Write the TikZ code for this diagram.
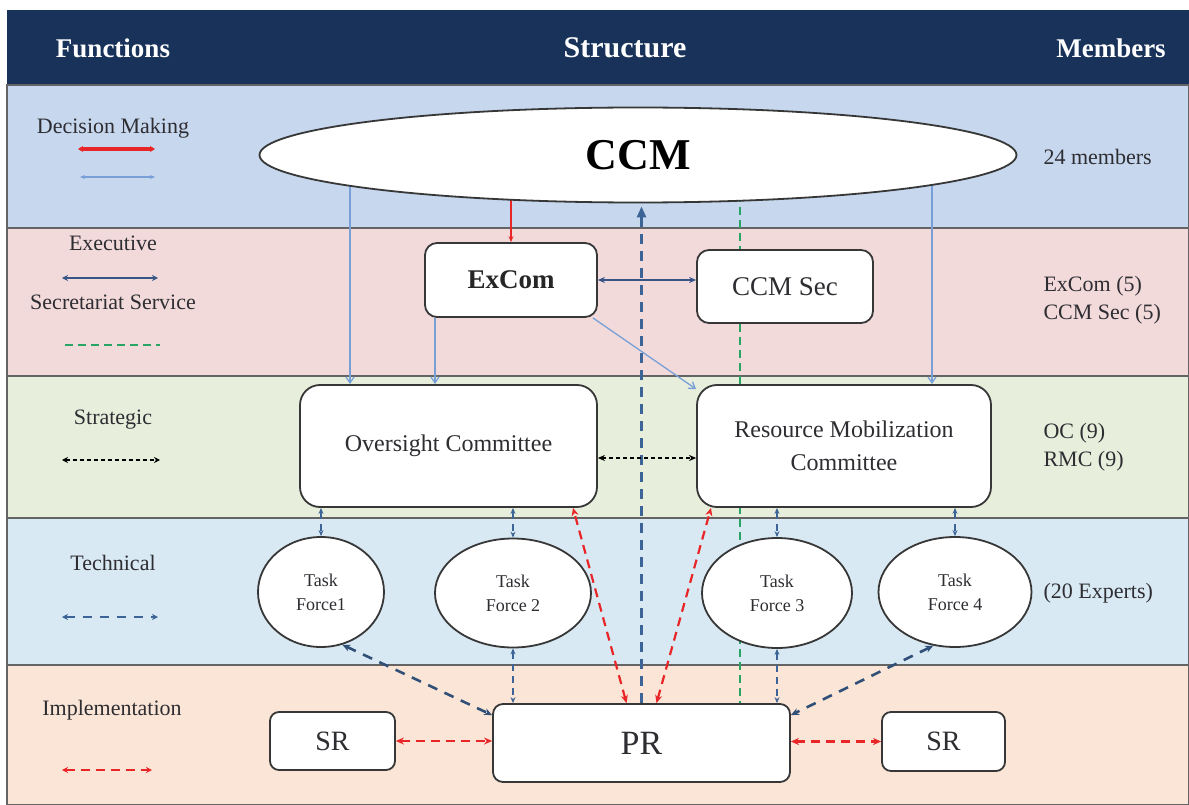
\documentclass[tikz,border=0pt]{standalone}
\usepackage{fontspec}
\setmainfont{Liberation Serif}
\usetikzlibrary{shapes.geometric,arrows.meta,calc}
\pgfdeclarelayer{bands}\pgfdeclarelayer{lines}\pgfsetlayers{bands,lines,main}
\definecolor{navy}{RGB}{24,50,90}
\definecolor{bandA}{RGB}{198,215,238}
\definecolor{bandB}{RGB}{242,218,219}
\definecolor{bandC}{RGB}{232,238,220}
\definecolor{bandD}{RGB}{217,233,243}
\definecolor{bandE}{RGB}{251,229,214}
\definecolor{redc}{RGB}{232,38,40}
\definecolor{lblue}{RGB}{120,160,215}
\definecolor{dblue}{RGB}{55,85,135}
\definecolor{dashblue}{RGB}{60,100,150}
\definecolor{greenc}{RGB}{40,165,100}
\definecolor{edgec}{RGB}{55,55,55}
\definecolor{framec}{RGB}{100,100,100}
\definecolor{txt}{RGB}{45,45,50}
\tikzset{
  box/.style={draw=edgec, line width=1.8pt, fill=white, rounded corners=12pt, inner sep=0pt, align=center, text=txt},
  tf/.style={ellipse, draw=edgec, line width=1.8pt, fill=white, inner sep=0pt, align=center, text=txt, font=\fontsize{18}{24}\selectfont},
  lbl/.style={font=\fontsize{22}{26}\selectfont, text=txt},
  rlbl/.style={font=\fontsize{22}{28}\selectfont, text=txt, anchor=west, align=left},
  hdr/.style={font=\bfseries\fontsize{27}{30}\selectfont, text=white},
  band/.style={draw=framec, line width=1.2pt},
  redsolid/.style={draw=redc, line width=2.2pt},
  lightline/.style={draw=lblue, line width=1.3pt},
  darkline/.style={draw=dblue, line width=2.2pt},
  greendash/.style={draw=greenc, line width=1.6pt, dash pattern=on 8pt off 5pt},
  blackdash/.style={draw=black, line width=1.4pt, dash pattern=on 4pt off 3pt},
  bluedash/.style={draw=dashblue, line width=2.2pt, dash pattern=on 7pt off 5pt},
  reddash/.style={draw=redc, line width=2.2pt, dash pattern=on 9pt off 6pt},
}
\begin{document}
\begin{tikzpicture}[x=1pt,y=-1pt]
\useasboundingbox (0,0) rectangle (1189,805);
% bands
\begin{pgfonlayer}{bands}
\fill[white] (0,0) rectangle (1189,805);
\fill[navy] (7,10) rectangle (1189,85);
\path[band, fill=bandA] (7,85) rectangle (1189,228);
\path[band, fill=bandB] (7,228) rectangle (1189,376);
\path[band, fill=bandC] (7,376) rectangle (1189,518);
\path[band, fill=bandD] (7,518) rectangle (1189,665);
\path[band, fill=bandE] (7,665) rectangle (1189,805);
\end{pgfonlayer}
% header
\node[hdr] (hF) at (113,48) {Functions};
\node[hdr, font=\bfseries\fontsize{30}{32}\selectfont] (hS) at (625,48) {Structure};
\node[hdr] (hM) at (1111,48) {Members};
% legend
\node[lbl] (lDM) at (113,128) {Decision Making};
\node[lbl] (lEx) at (113,243) {Executive};
\node[lbl] (lSS) at (113,302) {Secretariat Service};
\node[lbl] (lSt) at (113,420) {Strategic};
\node[lbl] (lTe) at (113,563) {Technical};
\node[lbl] (lIm) at (112,710) {Implementation};
\draw[redsolid, line width=3.2pt, {Stealth[length=5pt,width=6pt]}-{Stealth[length=5pt,width=6pt]}] (78,149) -- (155,149);
\draw[lightline, line width=1.6pt, {Stealth[length=5pt,width=4pt]}-{Stealth[length=5pt,width=4pt]}] (80,177) -- (155,177);
\draw[darkline, line width=2.6pt, {Stealth[length=6pt,width=6pt]}-{Stealth[length=6pt,width=6pt]}] (62,278) -- (158,278);
\draw[greendash, line width=2.4pt] (65,345) -- (160,345);
\draw[blackdash, line width=1.6pt, {Stealth[length=6pt,width=6pt]}-{Stealth[length=6pt,width=6pt]}] (62,460) -- (160,460);
\draw[bluedash, line width=2.6pt, dash pattern=on 9pt off 8pt, {Stealth[length=6pt,width=6pt]}-{Stealth[length=6pt,width=6pt]}] (62,617) -- (158,617);
\draw[reddash, line width=2.6pt, {Stealth[length=6pt,width=6pt]}-{Stealth[length=6pt,width=6pt]}] (62,770) -- (152,770);
% members column
\node[rlbl] (m1) at (1040,157) {24 members};
\node[rlbl] (m2) at (1040,300) {ExCom (5)\\CCM Sec (5)};
\node[rlbl] (m3) at (1040,447) {OC (9)\\RMC (9)};
\node[rlbl] (m4) at (1040,593) {(20 Experts)};
% structure nodes
\node[ellipse, draw=edgec, line width=1.8pt, fill=white, inner sep=0pt, minimum width=757pt, minimum height=95pt, font=\bfseries\fontsize{44}{46}\selectfont, text=black] (ccm) at (638,155) {CCM};
\node[box, minimum width=172pt, minimum height=74pt, font=\bfseries\fontsize{27}{30}\selectfont, text=black!85] (excom) at (511,280) {ExCom};
\node[box, minimum width=176pt, minimum height=73pt, font=\fontsize{27}{30}\selectfont] (ccmsec) at (785,286.5) {CCM Sec};
\node[box, rounded corners=20pt, minimum width=297pt, minimum height=122pt, font=\fontsize{24}{33}\selectfont] (oc) at (448.5,446) {Oversight Committee};
\node[box, rounded corners=20pt, minimum width=294pt, minimum height=122pt, font=\fontsize{24}{33}\selectfont] (rmc) at (844,446) {Resource Mobilization\\Committee};
\node[tf, minimum width=126pt, minimum height=110pt] (tf1) at (321,592) {Task\\Force1};
\node[tf, minimum width=156pt, minimum height=109pt] (tf2) at (513,593) {Task\\Force 2};
\node[tf, minimum width=150pt, minimum height=110pt] (tf3) at (777,593) {Task\\Force 3};
\node[tf, minimum width=153pt, minimum height=110pt] (tf4) at (955,592) {Task\\Force 4};
\node[box, rounded corners=10pt, minimum width=297pt, minimum height=78pt, font=\fontsize{34}{36}\selectfont] (pr) at (641.5,743) {PR};
\node[box, rounded corners=9pt, minimum width=125pt, minimum height=58pt, font=\fontsize{28}{30}\selectfont] (srl) at (332.5,741) {SR};
\node[box, rounded corners=9pt, minimum width=123pt, minimum height=59pt, font=\fontsize{28}{30}\selectfont] (srr) at (943.5,741.5) {SR};
% helper coordinates
\coordinate (x350) at (350,0);
\coordinate (x932) at (932,0);
\coordinate (x435) at (435,0);
\coordinate (x740) at (740,0);
% connectors
\begin{pgfonlayer}{lines}
\draw[redsolid, -{Stealth[length=6pt,width=5pt]}] (excom.north |- ccm.center) -- (excom.north);
\draw[lightline, -{Straight Barb[length=6pt,width=8pt]}] (x350 |- ccm.center) -- (x350 |- oc.north);
\draw[lightline, -{Straight Barb[length=6pt,width=8pt]}] (x932 |- ccm.center) -- (x932 |- rmc.north);
\draw[lightline, -{Straight Barb[length=6pt,width=8pt]}] (x435 |- excom.south) -- (x435 |- oc.north);
\draw[lightline, -{Straight Barb[length=6pt,width=8pt]}] ([xshift=-5pt]excom.south east) -- ([yshift=-5pt]rmc.north west);
\draw[darkline, {Stealth[length=7pt,width=6pt]}-{Stealth[length=7pt,width=6pt]}] (excom.east) -- (excom.east -| ccmsec.west);
\draw[bluedash, line width=2.6pt, dash pattern=on 10pt off 7pt, -{Triangle[length=11pt,width=9pt]}] (pr.north) -- ([yshift=-3pt]pr.north |- ccm.south);
\draw[greendash] (x740 |- ccm.center) -- (x740 |- pr.north);
\draw[blackdash, {Stealth[length=7pt,width=6pt]}-{Stealth[length=7pt,width=6pt]}] ([yshift=-12pt]oc.east) -- ([yshift=-12pt]rmc.west);
\draw[bluedash, {Stealth[length=6pt,width=5pt]}-{Stealth[length=6pt,width=5pt]}] (tf1.north |- oc.south) -- (tf1.north);
\draw[bluedash, {Stealth[length=6pt,width=5pt]}-{Stealth[length=6pt,width=5pt]}] (tf2.north |- oc.south) -- (tf2.north);
\draw[bluedash, {Stealth[length=6pt,width=5pt]}-{Stealth[length=6pt,width=5pt]}] (tf3.north |- rmc.south) -- (tf3.north);
\draw[bluedash, {Stealth[length=6pt,width=5pt]}-{Stealth[length=6pt,width=5pt]}] (tf4.north |- rmc.south) -- (tf4.north);
\draw[bluedash, {Stealth[length=6pt,width=5pt]}-{Stealth[length=6pt,width=5pt]}] (tf2.south) -- (tf2.south |- pr.north);
\draw[bluedash, {Stealth[length=6pt,width=5pt]}-{Stealth[length=6pt,width=5pt]}] (tf3.south) -- (tf3.south |- pr.north);
\draw[bluedash, draw=dashblue!80!black, line width=2.6pt, dash pattern=on 10pt off 8pt, {Stealth[length=8pt,width=7pt]}-{Stealth[length=8pt,width=7pt]}] (tf1.-68) -- ([yshift=-12pt]pr.north west);
\draw[bluedash, draw=dashblue!80!black, line width=2.6pt, dash pattern=on 10pt off 8pt, {Stealth[length=8pt,width=7pt]}-{Stealth[length=8pt,width=7pt]}] (tf4.-112) -- ([yshift=-12pt]pr.north east);
\draw[reddash, {Stealth[length=8pt,width=7pt]}-{Stealth[length=8pt,width=7pt]}] ([xshift=-15pt]pr.north) -- ([xshift=124.5pt]oc.south);
\draw[reddash, {Stealth[length=8pt,width=7pt]}-{Stealth[length=8pt,width=7pt]}] ([xshift=15pt]pr.north) -- ([xshift=-133pt]rmc.south);
\draw[reddash, {Stealth[length=8pt,width=7pt]}-{Stealth[length=8pt,width=7pt]}] (srl.east) -- (srl.east -| pr.west);
\draw[reddash, {Stealth[length=8pt,width=7pt]}-{Stealth[length=8pt,width=7pt]}] (pr.east |- srr.west) -- (srr.west);
\end{pgfonlayer}
\end{tikzpicture}
\end{document}
